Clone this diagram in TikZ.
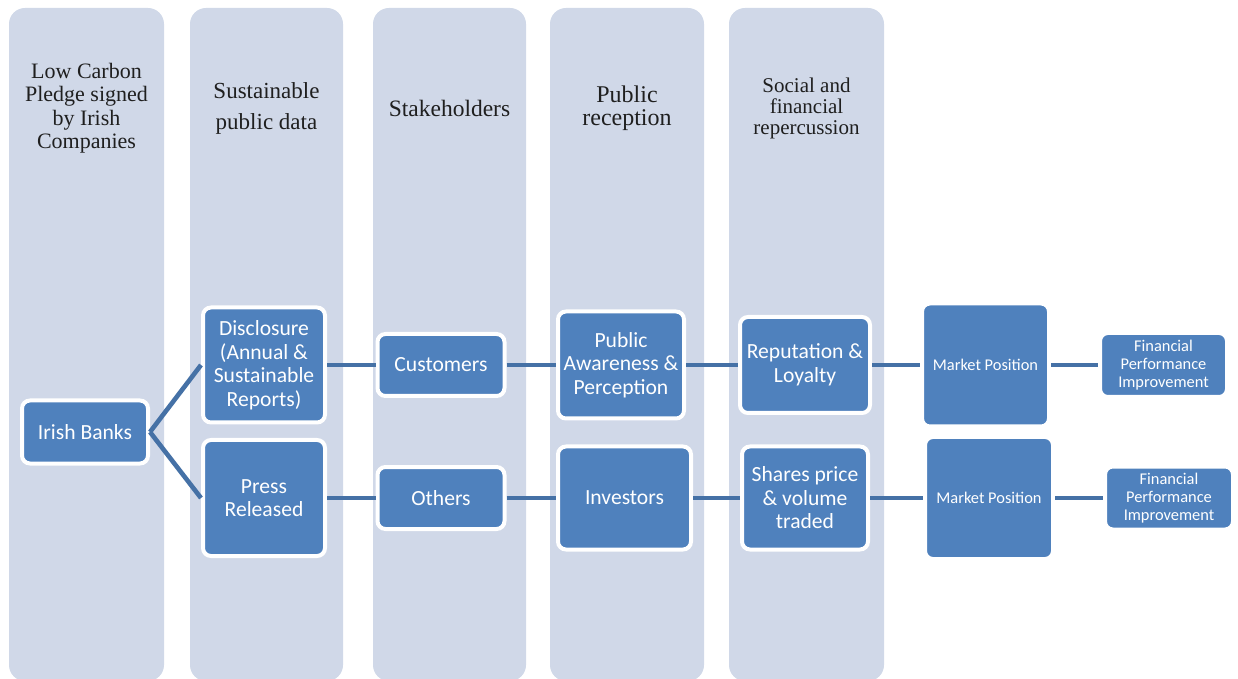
\documentclass[tikz,border=0pt]{standalone}
\usepackage{fontspec}
\setmainfont{Liberation Serif}
\setsansfont{Carlito}
\usepackage{tikz}
\definecolor{colbg}{HTML}{D0D8E8}
\definecolor{boxblue}{HTML}{4F81BD}
\definecolor{linkblue}{HTML}{4571A6}

\begin{document}
\begin{tikzpicture}[
	x=0.5pt, y=-0.5pt,
	MyColumn/.style={fill=colbg, rounded corners=8pt},
	MyHeads/.style={align=center, text=black!88, inner sep=0pt},
	MyBox/.style={draw=white, line width=2pt, fill=boxblue, rounded corners=4pt,
		text=white, align=center, inner sep=0pt,
		font=\sffamily\fontsize{10.8}{11.75}\selectfont},
	MySmall/.style={font=\sffamily\fontsize{8.2}{9}\selectfont},
	MyLinks/.style={draw=linkblue, line width=2.3pt},
	]
	\useasboundingbox (0,0) rectangle (1238,679);
	\clip (0,0) rectangle (1238,679);
	
	% the five stage columns
	\foreach \xa/\xb in {9/164, 190/343, 373/526, 550/704, 729/884}
	{ \path[MyColumn] (\xa,8) rectangle (\xb,681);
	}
	
	% column titles
	\node[MyHeads, font=\fontsize{11}{11.75}\selectfont] (hcarbon) at (86.5,108)
		{Low Carbon\\Pledge signed\\by Irish\\Companies};
	\node[MyHeads, font=\fontsize{11.5}{15.5}\selectfont] (hdata) at (266.5,108)
		{Sustainable\\public data};
	\node[MyHeads, font=\fontsize{11.75}{12}\selectfont] (hstake) at (449.5,108)
		{Stakeholders};
	\node[MyHeads, font=\fontsize{12}{11.5}\selectfont] (hrecep) at (627,108)
		{Public\\reception};
	\node[MyHeads, font=\fontsize{10.5}{10.5}\selectfont] (hrepcu) at (806.5,108)
		{Social and\\financial\\repercussion};
	
	% boxes
	\node[MyBox, minimum width=63pt, minimum height=31.5pt] (banks) at (85,432) {Irish Banks};
	
	\node[MyBox, minimum width=61pt, minimum height=57.5pt] (discl) at (264,365)
		{Disclosure\\(Annual \&\\Sustainable\\Reports)};
	\node[MyBox, minimum width=61pt, minimum height=58pt] (press) at (264,498)
		{Press\\Released};
	
	\node[MyBox, minimum width=63.5pt, minimum height=31pt] (cust) at (441,365) {Customers};
	\node[MyBox, minimum width=63.5pt, minimum height=31pt] (other) at (441,498) {Others};
	
	\node[MyBox, minimum width=63pt, minimum height=53.5pt] (aware) at (621,365)
		{Public\\Awareness \&\\Perception};
	\node[MyBox, minimum width=66.5pt, minimum height=51.5pt] (invest) at (624.5,498) {Investors};
	
	\node[MyBox, minimum width=65pt, minimum height=48pt] (repu) at (805,365)
		{Reputation \&\\Loyalty};
	\node[MyBox, minimum width=63pt, minimum height=51.5pt] (shares) at (805,498)
		{Shares price\\\& volume\\traded};
	
	\node[MyBox, MySmall, minimum width=63.5pt, minimum height=61.5pt] (mkta) at (985.5,365)
		{Market Position};
	\node[MyBox, MySmall, minimum width=64pt, minimum height=61pt] (mktb) at (989,498)
		{Market Position};
	
	\node[MyBox, MySmall, minimum width=63.5pt, minimum height=32pt] (fina) at (1163.5,365)
		{Financial\\Performance\\Improvement};
	\node[MyBox, MySmall, minimum width=64pt, minimum height=31.5pt] (finb) at (1169,498)
		{Financial\\Performance\\Improvement};
	
	% links between the boxes
	\draw[MyLinks] (banks.east) -- (discl.west);
	\draw[MyLinks] (banks.east) -- (press.west);
	\draw[MyLinks] (discl) -- (cust) -- (aware) -- (repu) -- (mkta) -- (fina);
	\draw[MyLinks] (press) -- (other) -- (invest) -- (shares) -- (mktb) -- (finb);
	
\end{tikzpicture}
\end{document}
